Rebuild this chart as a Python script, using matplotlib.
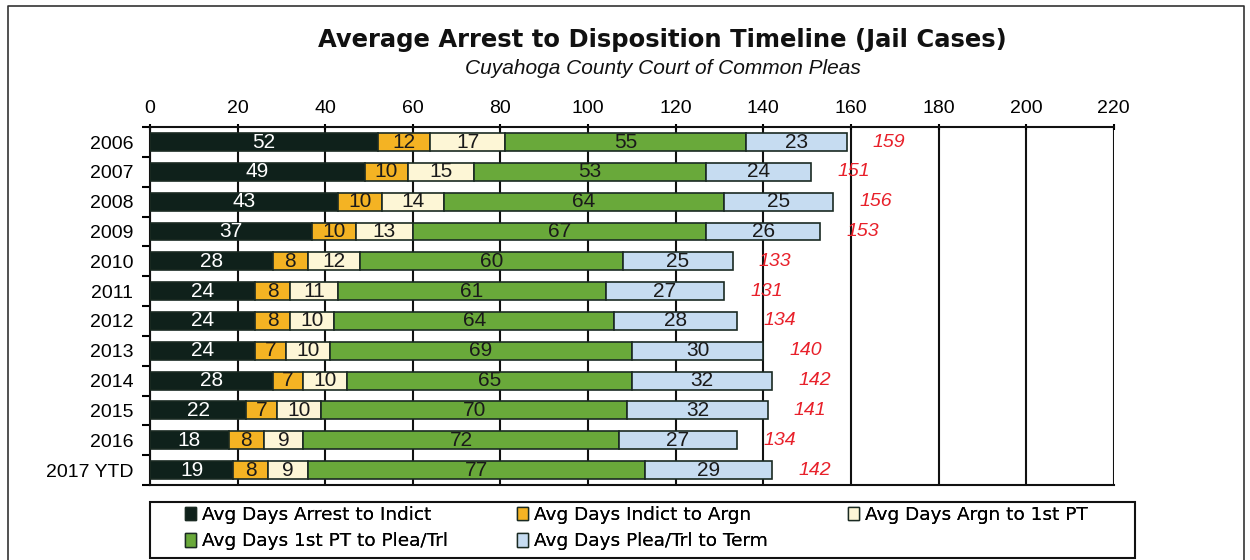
import matplotlib
matplotlib.use("Agg")
import numpy as np
from matplotlib import pyplot as plt
from matplotlib.patches import Patch, Rectangle

years = ["2006", "2007", "2008", "2009", "2010", "2011", "2012",
         "2013", "2014", "2015", "2016", "2017 YTD"]
arrest_indict = [52, 49, 43, 37, 28, 24, 24, 24, 28, 22, 18, 19]
indict_argn = [12, 10, 10, 10, 8, 8, 8, 7, 7, 7, 8, 8]
argn_pt = [17, 15, 14, 13, 12, 11, 10, 10, 10, 10, 9, 9]
pt_plea = [55, 53, 64, 67, 60, 61, 64, 69, 65, 70, 72, 77]
plea_term = [23, 24, 25, 26, 25, 27, 28, 30, 32, 32, 27, 29]
totals = [159, 151, 156, 153, 133, 131, 134, 140, 142, 141, 134, 142]

series = [
    ("Avg Days Arrest to Indict", arrest_indict, "#0f211b", "white"),
    ("Avg Days Indict to Argn", indict_argn, "#f4b323", "#1a1a1a"),
    ("Avg Days Argn to 1st PT", argn_pt, "#fdf6d6", "#1a1a1a"),
    ("Avg Days 1st PT to Plea/Trl", pt_plea, "#69a93a", "#1a1a1a"),
    ("Avg Days Plea/Trl to Term", plea_term, "#c6dcf1", "#1a1a1a"),
]

ARIAL = "Liberation Sans"

fig = plt.figure(figsize=(12.5, 5.6), dpi=100)
ax = fig.add_axes([0.12, 0.134, 0.771, 0.639])

y = np.arange(len(years))
left = np.zeros(len(years))
handles = []
for name, vals, col, tcol in series:
    vals = np.array(vals, dtype=float)
    ax.barh(y, vals, left=left, height=0.6, color=col,
            edgecolor="#1a2a22", linewidth=1.2, zorder=3)
    for i, v in enumerate(vals):
        ax.text(left[i] + v / 2, y[i], f"{int(v)}", ha="center", va="center",
                fontsize=15, family=ARIAL, color=tcol, zorder=4)
    left += vals
    handles.append(Patch(facecolor=col, edgecolor="#1a2a22", label=name))

for i, t in enumerate(totals):
    ax.text(t + 6, y[i], str(t), ha="left", va="center", color="#e8202a",
            fontsize=14, family=ARIAL, style="italic", zorder=4)

ax.set_xlim(0, 220)
ax.set_ylim(len(years) - 0.5, -0.5)
ax.set_xticks(np.arange(0, 221, 20))
ax.xaxis.tick_top()
ax.tick_params(axis="x", labelsize=14, length=5, width=1.5, direction="inout", pad=5)
ax.set_yticks(y)
ax.set_yticklabels(years)
ax.set_yticks(np.arange(-0.5, len(years), 1), minor=True)
ax.tick_params(axis="y", which="major", length=0, labelsize=14, pad=12)
ax.tick_params(axis="y", which="minor", length=6, width=1.5, direction="out")
for lab in ax.get_xticklabels() + ax.get_yticklabels():
    lab.set_family(ARIAL)
ax.grid(axis="x", color="#111111", linewidth=1.5, zorder=0)
ax.set_axisbelow(True)
for s in ax.spines.values():
    s.set_linewidth(1.5)
    s.set_color("#111111")
ax.spines["right"].set_visible(False)

fig.text(0.53, 0.928, "Average Arrest to Disposition Timeline (Jail Cases)",
         ha="center", va="center", fontsize=17.5, fontweight="bold", color="#111111")
fig.text(0.53, 0.878, "Cuyahoga County Court of Common Pleas",
         ha="center", va="center", fontsize=15, family=ARIAL, style="italic",
         color="#111111")

# legend: three columns placed separately, frame drawn as a rectangle
columns = [([handles[0], handles[3]], 185), ([handles[1], handles[4]], 517),
           ([handles[2]], 848)]
for hs, xpx in columns:
    leg = fig.legend(handles=hs, loc="upper left",
                     bbox_to_anchor=(xpx / 1250, 1 - 506 / 560),
                     fontsize=13.3, frameon=False, handlelength=0.6,
                     handleheight=0.75, handletextpad=0.3, labelspacing=0.45,
                     borderpad=0.0, borderaxespad=0.0)
    fig.add_artist(leg)
fig.add_artist(Rectangle((150 / 1250, 2 / 560), 985 / 1250, 56 / 560,
                         transform=fig.transFigure, fill=False,
                         edgecolor="#111111", linewidth=1.5))

# outer frame
fig.add_artist(plt.Line2D([0.006, 0.006, 0.995, 0.995], [0.0, 0.99, 0.99, 0.0],
                          transform=fig.transFigure, color="#333333", linewidth=1.2))

fig.savefig("out.png", dpi=100)
